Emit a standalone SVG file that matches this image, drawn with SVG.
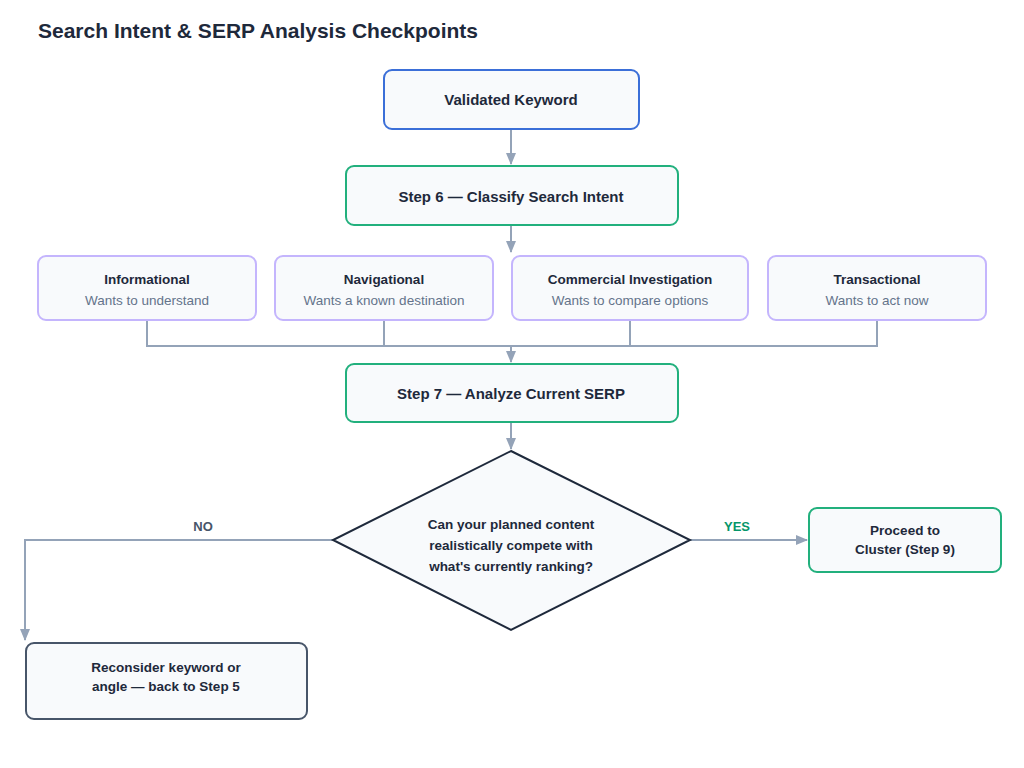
<svg xmlns="http://www.w3.org/2000/svg" width="1024" height="768" viewBox="0 0 1024 768">
<style>
text{font-family:"Liberation Sans",Arial,sans-serif;fill:#1e293b}
.b{font-weight:bold;font-size:15px}
.h{font-weight:bold;font-size:13.5px}
.s{font-size:13.5px;fill:#64748b}
.c{fill:none;stroke:#94a3b8;stroke-width:2}
.lbl{font-weight:bold;font-size:13px}
</style>
<defs><marker id="a" markerWidth="12" markerHeight="10" refX="11" refY="5" orient="auto" markerUnits="userSpaceOnUse"><path d="M0,0L12,5L0,10Z" fill="#94a3b8"/></marker></defs>
<rect width="1024" height="768" fill="#fff"/>
<text x="38" y="38" font-size="21" font-weight="bold">Search Intent &amp; SERP Analysis Checkpoints</text>
<g id="connectors">
<path class="c" d="M511,130V164" marker-end="url(#a)"/>
<path class="c" d="M511,226V252" marker-end="url(#a)"/>
<path class="c" d="M147,320V346H877V320M384,320V346M630,320V346"/>
<path class="c" d="M511,346V362" marker-end="url(#a)"/>
<path class="c" d="M511,423V449" marker-end="url(#a)"/>
<path class="c" d="M333,540H25V640" marker-end="url(#a)"/>
<path class="c" d="M690,540H807" marker-end="url(#a)"/>
<text class="lbl" x="203" y="531" text-anchor="middle" fill="#475569" style="fill:#475569">NO</text>
<text class="lbl" x="737" y="531" text-anchor="middle" style="fill:#059669">YES</text>
</g>
<g id="n1"><rect x="384" y="70" width="255" height="59" rx="8" fill="#f8fafc" stroke="#3b6fd8" stroke-width="2"/><text class="b" x="511" y="105" text-anchor="middle">Validated Keyword</text></g>
<g id="n2"><rect x="346" y="166" width="332" height="59" rx="8" fill="#f8fafc" stroke="#22b07d" stroke-width="2"/><text class="b" x="511" y="202" text-anchor="middle">Step 6 — Classify Search Intent</text></g>
<g id="i1"><rect x="38" y="256" width="218" height="64" rx="8" fill="#f8fafc" stroke="#c4b5fd" stroke-width="2"/><text class="h" x="147" y="284" text-anchor="middle">Informational</text><text class="s" x="147" y="305" text-anchor="middle">Wants to understand</text></g>
<g id="i2"><rect x="275" y="256" width="218" height="64" rx="8" fill="#f8fafc" stroke="#c4b5fd" stroke-width="2"/><text class="h" x="384" y="284" text-anchor="middle">Navigational</text><text class="s" x="384" y="305" text-anchor="middle">Wants a known destination</text></g>
<g id="i3"><rect x="512" y="256" width="236" height="64" rx="8" fill="#f8fafc" stroke="#c4b5fd" stroke-width="2"/><text class="h" x="630" y="284" text-anchor="middle">Commercial Investigation</text><text class="s" x="630" y="305" text-anchor="middle">Wants to compare options</text></g>
<g id="i4"><rect x="768" y="256" width="218" height="64" rx="8" fill="#f8fafc" stroke="#c4b5fd" stroke-width="2"/><text class="h" x="877" y="284" text-anchor="middle">Transactional</text><text class="s" x="877" y="305" text-anchor="middle">Wants to act now</text></g>
<g id="n3"><rect x="346" y="364" width="332" height="58" rx="8" fill="#f8fafc" stroke="#22b07d" stroke-width="2"/><text class="b" x="511" y="399" text-anchor="middle">Step 7 — Analyze Current SERP</text></g>
<g id="d"><path d="M511,451L690,540L511,630L333,540Z" fill="#f8fafc" stroke="#1e293b" stroke-width="2"/><text class="h" x="511" y="529" text-anchor="middle">Can your planned content</text><text class="h" x="511" y="550" text-anchor="middle">realistically compete with</text><text class="h" x="511" y="571" text-anchor="middle">what's currently ranking?</text></g>
<g id="yes"><rect x="809" y="508" width="192" height="64" rx="8" fill="#f8fafc" stroke="#22b07d" stroke-width="2"/><text class="h" x="905" y="535" text-anchor="middle">Proceed to</text><text class="h" x="905" y="554" text-anchor="middle">Cluster (Step 9)</text></g>
<g id="no"><rect x="26" y="643" width="281" height="76" rx="8" fill="#f8fafc" stroke="#475569" stroke-width="2"/><text class="h" x="166" y="672" text-anchor="middle">Reconsider keyword or</text><text class="h" x="166" y="691" text-anchor="middle">angle — back to Step 5</text></g>
</svg>
